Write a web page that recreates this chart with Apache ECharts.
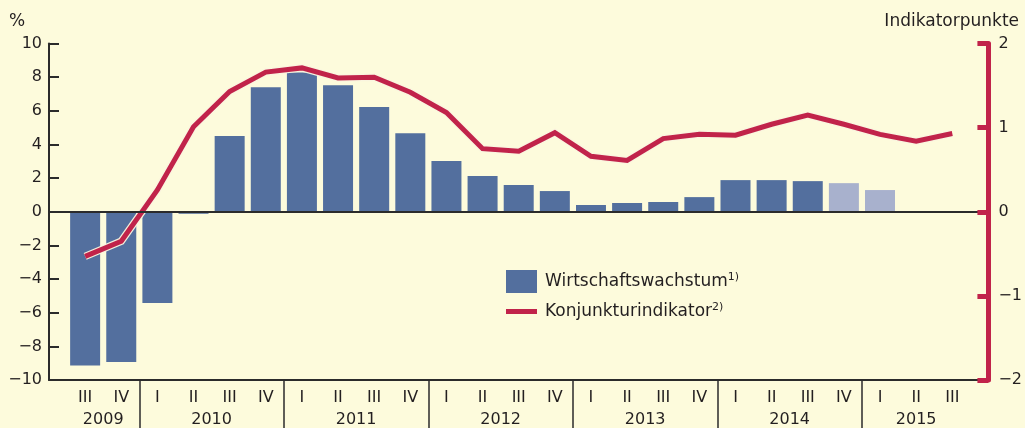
<!DOCTYPE html>
<html>
<head>
<meta charset="utf-8">
<script src="https://cdn.jsdelivr.net/npm/echarts@6/dist/echarts.min.js"></script>
<style>
  html, body { margin: 0; padding: 0; background: #fdfbdc; }
  #chart { width: 1025px; height: 428px; }
</style>
</head>
<body>
<div id="chart"></div>
<script>
// ---- data ----
const quarters = ['III','IV','I','II','III','IV','I','II','III','IV','I','II','III','IV','I','II','III','IV','I','II','III','IV','I','II','III'];
const years = ['2009','2010','2011','2012','2013','2014','2015'];
const growth = [-9.14,-8.93,-5.42,-0.12,4.50,7.40,8.28,7.52,6.22,4.67,3.01,2.12,1.59,1.23,0.40,0.52,0.58,0.87,1.88,1.88,1.82,1.70,1.29,null,null];
const estimated = [false,false,false,false,false,false,false,false,false,false,false,false,false,false,false,false,false,false,false,false,false,true,true,false,false];
const indicator = [-0.53,-0.35,0.26,1.01,1.43,1.66,1.71,1.59,1.60,1.42,1.18,0.75,0.72,0.94,0.66,0.61,0.87,0.92,0.91,1.04,1.15,1.04,0.92,0.84,0.93];
const leftTicks = { min: -10, max: 10, interval: 2 };
const rightTicks = { min: -2, max: 2, interval: 1 };
const seriesNames = ['Wirtschaftswachstum', 'Konjunkturindikator'];
const footnotes = ['1)', '2)'];
const unitLeft = '%';
const unitRight = 'Indikatorpunkte';

// ---- derived axes ----
const FONT = 'DejaVu Sans';
const TXT = '#231f20';
const AX = '#2b2b2b';
const RED = '#c1234a';
const BLUE = '#536f9e';
const LIGHT = '#a8b1cd';

// integer-step axis: one padding slot each side
const qCats = [''].concat(quarters, ['']);
// year blocks
const yearStarts = [];
quarters.forEach((q, i) => { if (i === 0 || q === 'I') yearStarts.push(i); });
// half-step axis: positions i = -1, -0.5, ..., 25
const nHalf = (quarters.length + 1) * 2 + 1;
const halfCats = new Array(nHalf).fill('');
const sepIdx = new Set();
yearStarts.forEach((s, k) => {
  const end = (k + 1 < yearStarts.length ? yearStarts[k + 1] : quarters.length) - 1;
  const center = (s + end) / 2;
  halfCats[Math.round((center + 1) * 2)] = years[k];
  if (k > 0) sepIdx.add(Math.round((s - 0.5 + 1) * 2));
});

const barData = [null].concat(growth.map((v, i) => (v === null ? null :
  (estimated[i] ? { value: v, itemStyle: { color: LIGHT } } : v))), [null]);
const lineData = [null].concat(indicator, [null]);

const minus = v => String(v).replace('-', '\u2212');

const chart = echarts.init(document.getElementById('chart'), null, { renderer: 'canvas' });
chart.setOption({
  backgroundColor: '#fdfbdc',
  animation: false,
  textStyle: { fontFamily: FONT, color: TXT },
  title: [
    { text: unitLeft, left: 9, top: 13, padding: 0,
      textStyle: { fontFamily: FONT, fontSize: 17, fontWeight: 'normal', color: TXT } },
    { text: unitRight, right: 6, top: 13, padding: 0,
      textStyle: { fontFamily: FONT, fontSize: 17, fontWeight: 'normal', color: TXT } }
  ],
  grid: { left: 49, right: 32, top: 43.5, bottom: 48, containLabel: false },
  legend: [
    { data: [seriesNames[0]], left: 506, top: 270, padding: 0, orient: 'vertical',
      itemWidth: 31, itemHeight: 23, icon: 'rect', selectedMode: false,
      formatter: n => '{n|' + n + '}{s|' + footnotes[0] + '}',
      textStyle: { rich: {
        n: { fontFamily: FONT, fontSize: 17, color: TXT, lineHeight: 20, padding: [0, 0, 0, 3] },
        s: { fontFamily: FONT, fontSize: 11, color: TXT, verticalAlign: 'top', lineHeight: 11 } } } },
    { data: [seriesNames[1]], left: 506, top: 301.5, padding: 0, orient: 'vertical',
      itemWidth: 31, itemHeight: 5, icon: 'rect', selectedMode: false,
      formatter: n => '{n|' + n + '}{s|' + footnotes[1] + '}',
      textStyle: { rich: {
        n: { fontFamily: FONT, fontSize: 17, color: TXT, lineHeight: 20, padding: [0, 0, 0, 3] },
        s: { fontFamily: FONT, fontSize: 11, color: TXT, verticalAlign: 'top', lineHeight: 11 } } } }
  ],
  xAxis: [
    { type: 'category', data: qCats, boundaryGap: false, position: 'bottom', z: 5,
      axisLine: { onZero: false, lineStyle: { color: AX, width: 2 } },
      axisTick: { show: false },
      axisLabel: { interval: 0, fontFamily: FONT, fontSize: 16, color: TXT, margin: 10 } },
    { type: 'category', data: halfCats, boundaryGap: false, position: 'bottom', z: 5,
      axisLine: { show: false, onZero: false },
      axisTick: { show: true, interval: (idx) => sepIdx.has(idx), length: 50,
                  lineStyle: { color: AX, width: 1.5 } },
      axisLabel: { interval: 0, fontFamily: FONT, fontSize: 16, color: TXT, margin: 32 } }
  ],
  yAxis: [
    { type: 'value', position: 'left', min: leftTicks.min, max: leftTicks.max, interval: leftTicks.interval, z: 5,
      splitLine: { show: false },
      axisLine: { show: true, lineStyle: { color: AX, width: 2 } },
      axisTick: { show: true, inside: true, length: 10, lineStyle: { color: AX, width: 2 } },
      axisLabel: { fontFamily: FONT, fontSize: 16, color: TXT, margin: 7, formatter: minus } },
    { type: 'value', position: 'right', min: rightTicks.min, max: rightTicks.max, interval: rightTicks.interval, z: 6,
      splitLine: { show: false },
      axisLine: { show: true, lineStyle: { color: RED, width: 5 } },
      axisTick: { show: true, inside: true, length: 11, lineStyle: { color: RED, width: 5 } },
      axisLabel: { fontFamily: FONT, fontSize: 16, color: TXT, margin: 10, formatter: minus } }
  ],
  series: [
    { name: seriesNames[0], type: 'bar', xAxisIndex: 0, yAxisIndex: 0, data: barData,
      barWidth: 30, itemStyle: { color: BLUE },
      markLine: { silent: true, symbol: 'none', label: { show: false },
        lineStyle: { color: AX, width: 2, type: 'solid' }, data: [{ yAxis: 0 }] } },
    { name: 'halo', type: 'line', xAxisIndex: 0, yAxisIndex: 1, data: lineData,
      showSymbol: false, symbol: 'none', silent: true,
      lineStyle: { color: 'rgba(250,244,222,0.95)', width: 7.5, join: 'miter' } },
    { name: seriesNames[1], type: 'line', xAxisIndex: 0, yAxisIndex: 1, data: lineData,
      showSymbol: false, symbol: 'none', itemStyle: { color: RED },
      lineStyle: { color: RED, width: 5, join: 'miter' } }
  ]
});
</script>
</body>
</html>
